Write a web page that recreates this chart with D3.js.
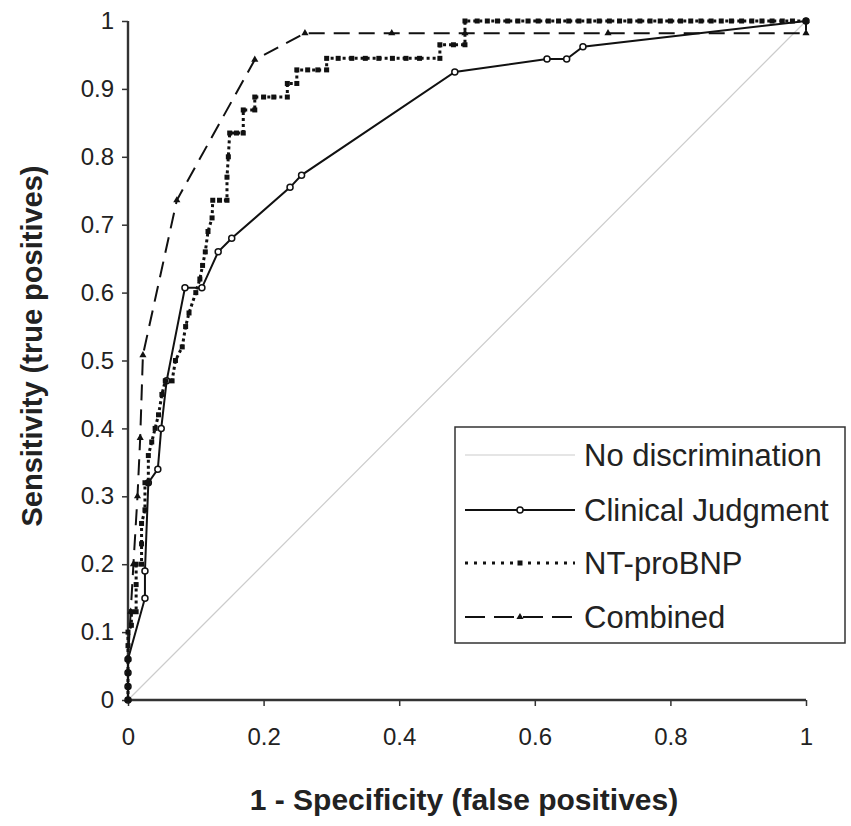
<!DOCTYPE html>
<html><head><meta charset="utf-8">
<script src="https://cdn.jsdelivr.net/npm/d3@7"></script>
<style>body{margin:0;background:#fff}svg{display:block}</style>
</head><body>
<svg id="c" width="851" height="826"></svg>
<script>
const xTicks = [0, 0.2, 0.4, 0.6, 0.8, 1];
const yTicks = [0, 0.1, 0.2, 0.3, 0.4, 0.5, 0.6, 0.7, 0.8, 0.9, 1];
const seriesNames = ["No discrimination", "Clinical Judgment", "NT-proBNP", "Combined"];
const noDiscrimination = [[0,0],[1,1]];
const clinicalJudgment = [[0,0],[0,0.02],[0,0.04],[0,0.06],[0.025,0.15],[0.025,0.19],[0.03,0.32],[0.044,0.34],[0.049,0.40],[0.057,0.47],[0.084,0.607],[0.109,0.607],[0.133,0.66],[0.153,0.68],[0.239,0.755],[0.256,0.773],[0.482,0.925],[0.618,0.944],[0.647,0.944],[0.671,0.962],[1,1]];
const ntProBNP = [[0,0],[0,0.02],[0,0.04],[0,0.06],[0,0.08],[0,0.1],[0.005,0.11],[0.005,0.13],[0.012,0.13],[0.012,0.17],[0.012,0.2],[0.02,0.2],[0.02,0.23],[0.02,0.26],[0.025,0.28],[0.025,0.32],[0.03,0.32],[0.03,0.36],[0.035,0.38],[0.04,0.40],[0.045,0.42],[0.05,0.45],[0.055,0.47],[0.065,0.47],[0.07,0.5],[0.08,0.52],[0.085,0.55],[0.09,0.57],[0.1,0.6],[0.106,0.62],[0.11,0.64],[0.114,0.66],[0.118,0.69],[0.124,0.71],[0.125,0.736],[0.135,0.736],[0.146,0.736],[0.146,0.77],[0.148,0.8],[0.15,0.835],[0.16,0.835],[0.17,0.835],[0.17,0.869],[0.187,0.869],[0.187,0.888],[0.2,0.888],[0.215,0.888],[0.235,0.888],[0.235,0.908],[0.249,0.908],[0.249,0.928],[0.265,0.928],[0.28,0.928],[0.293,0.928],[0.293,0.945],[0.31,0.945],[0.33,0.945],[0.35,0.945],[0.37,0.945],[0.39,0.945],[0.41,0.945],[0.43,0.945],[0.46,0.945],[0.46,0.965],[0.48,0.965],[0.497,0.965],[0.497,1],[0.515,1],[0.53,1],[0.545,1],[0.56,1],[0.575,1],[0.59,1],[0.605,1],[0.62,1],[0.635,1],[0.65,1],[0.665,1],[0.68,1],[0.695,1],[0.71,1],[0.725,1],[0.74,1],[0.755,1],[0.77,1],[0.785,1],[0.8,1],[0.815,1],[0.83,1],[0.845,1],[0.86,1],[0.875,1],[0.89,1],[0.905,1],[0.92,1],[0.935,1],[0.95,1],[0.965,1],[0.98,1],[1,1]];
const combined = [[0,0],[0,0.06],[0.004,0.13],[0.008,0.2],[0.014,0.3],[0.018,0.386],[0.022,0.508],[0.072,0.736],[0.187,0.943],[0.261,0.982],[0.389,0.982],[0.497,0.982],[0.708,0.982],[1,0.982],[1,1]];

const svg = d3.select("#c");
const x = d3.scaleLinear().domain([0,1]).range([128,806]);
const y = d3.scaleLinear().domain([0,1]).range([700,21]);
const font = "Arial, 'Liberation Sans', sans-serif";
const line = d3.line().x(d=>x(d[0])).y(d=>y(d[1]));

// diagonal
svg.append("path").datum(noDiscrimination).attr("d", line)
  .attr("fill","none").attr("stroke","#cccccc").attr("stroke-width",1.2);

// axes
const xAxis = svg.append("g").attr("transform","translate(0,700)")
  .call(d3.axisBottom(x).tickValues(xTicks).tickSize(6).tickPadding(22).tickFormat(d3.format("")));
const yAxis = svg.append("g").attr("transform","translate(128,0)")
  .call(d3.axisLeft(y).tickValues(yTicks).tickSize(6).tickPadding(8).tickFormat(d3.format("")));
[xAxis,yAxis].forEach(g=>{
  g.select(".domain").attr("stroke","#333").attr("stroke-width",2.4);
  g.selectAll(".tick line").attr("stroke","#333").attr("stroke-width",1.5);
  g.selectAll(".tick text").attr("font-family",font).attr("font-size",24).attr("fill","#222");
});
yAxis.select(".domain").attr("d","M0,700V21");
xAxis.select(".domain").attr("d","M128,0H806");

// clinical judgment
svg.append("path").datum(clinicalJudgment).attr("d", line)
  .attr("fill","none").attr("stroke","#111").attr("stroke-width",2);
svg.append("g").selectAll("circle").data(clinicalJudgment).join("circle")
  .attr("cx",d=>x(d[0])).attr("cy",d=>y(d[1])).attr("r",3)
  .attr("fill","#fff").attr("stroke","#111").attr("stroke-width",1.5);

// NT-proBNP
svg.append("path").datum(ntProBNP).attr("d", line)
  .attr("fill","none").attr("stroke","#111").attr("stroke-width",3).attr("stroke-dasharray","3,3");
svg.append("g").selectAll("rect").data(ntProBNP).join("rect")
  .attr("x",d=>x(d[0])-2.5).attr("y",d=>y(d[1])-2.5).attr("width",5).attr("height",5)
  .attr("fill","#111");

// combined
svg.append("path").datum(combined).attr("d", line)
  .attr("fill","none").attr("stroke","#111").attr("stroke-width",2).attr("stroke-dasharray","16,9");
const tri = d3.symbol().type(d3.symbolTriangle).size(22);
svg.append("g").selectAll("path").data(combined).join("path")
  .attr("d",tri).attr("transform",d=>`translate(${x(d[0])},${y(d[1])})`).attr("fill","#111");

// axis titles
svg.append("text").attr("x",464).attr("y",810).attr("text-anchor","middle")
  .attr("font-family",font).attr("font-weight","bold").attr("font-size",30).attr("fill","#222")
  .text("1 - Specificity (false positives)");
svg.append("text").attr("transform","translate(42,346) rotate(-90)").attr("text-anchor","middle")
  .attr("font-family",font).attr("font-weight","bold").attr("font-size",29).attr("fill","#222")
  .text("Sensitivity (true positives)");

// legend
const lg = svg.append("g");
lg.append("rect").attr("x",455).attr("y",427).attr("width",390).attr("height",216)
  .attr("fill","#fff").attr("stroke","#333").attr("stroke-width",1.5);
const rowsY = [455, 510, 563, 617];
const styles = [
  {stroke:"#cccccc", w:1.2, dash:null, mark:null},
  {stroke:"#111", w:2, dash:null, mark:"circle"},
  {stroke:"#111", w:3, dash:"3,6", mark:"square"},
  {stroke:"#111", w:2, dash:"20,9", mark:"tri"}
];
seriesNames.forEach((name,i)=>{
  const s = styles[i], yy = rowsY[i];
  const p = lg.append("line").attr("x1",465).attr("x2",575).attr("y1",yy).attr("y2",yy)
    .attr("stroke",s.stroke).attr("stroke-width",s.w);
  if (s.dash) p.attr("stroke-dasharray",s.dash);
  if (s.mark==="circle") lg.append("circle").attr("cx",520).attr("cy",yy).attr("r",3).attr("fill","#fff").attr("stroke","#111").attr("stroke-width",1.5);
  if (s.mark==="square") lg.append("rect").attr("x",517.5).attr("y",yy-2.5).attr("width",5).attr("height",5).attr("fill","#111");
  if (s.mark==="tri") lg.append("path").attr("d",tri).attr("transform",`translate(520,${yy})`).attr("fill","#111");
  lg.append("text").attr("x",584).attr("y",yy).attr("dy","0.36em")
    .attr("font-family",font).attr("font-size",31).attr("fill","#222").text(name);
});
</script>
</body></html>
